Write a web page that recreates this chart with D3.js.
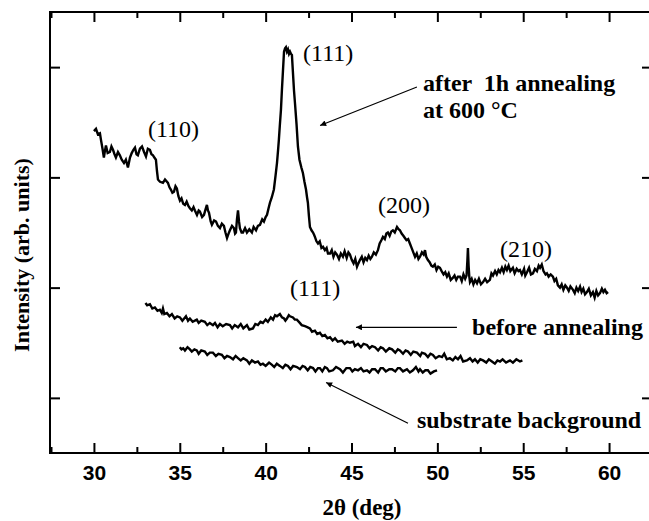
<!DOCTYPE html>
<html>
<head>
<meta charset="utf-8">
<script src="https://cdn.jsdelivr.net/npm/d3@7"></script>
<style>
  html, body { margin: 0; padding: 0; background: #fff; }
  svg { display: block; }
  .serif { font-family: "Liberation Serif", "Times New Roman", serif; }
</style>
</head>
<body>
<svg id="chart" width="649" height="521"></svg>
<script>
// ---- data (2θ in degrees, intensity in arbitrary units) ----
const xTicks = [30, 35, 40, 45, 50, 55, 60];
const xMinorTicks = [27.5, 32.5, 37.5, 42.5, 47.5, 52.5, 57.5, 62.5];
const yTicks = [50, 150, 250, 350];

const afterAnnealing = [
[30.00,292],[30.12,294],[30.23,289],[30.35,290],[30.41,284],[30.50,276],[30.58,268],[30.64,274],[30.70,279],[30.80,272],
[30.93,273],[31.02,278],[31.11,275],[31.20,271],[31.28,268],[31.40,273],[31.51,270],[31.62,266],[31.75,263],[31.86,266],
[31.98,259],[32.10,268],[32.20,272],[32.30,275],[32.39,277],[32.48,271],[32.56,270],[32.68,276],[32.80,278],[32.92,273],
[33.03,269],[33.14,276],[33.26,275],[33.35,271],[33.44,270],[33.52,268],[33.61,266],[33.67,256],[33.73,248],[33.85,246],
[34.02,245],[34.14,248],[34.31,245],[34.40,241],[34.48,239],[34.57,236],[34.66,237],[34.75,242],[34.83,240],[34.92,233],
[35.01,229],[35.10,231],[35.20,226],[35.30,225],[35.40,228],[35.50,224],[35.59,222],[35.70,220],[35.80,223],[35.88,220],
[36.00,216],[36.10,220],[36.17,219],[36.30,214],[36.41,216],[36.50,221],[36.58,225],[36.64,220],[36.70,218],[36.80,210],
[36.87,207],[37.00,211],[37.11,210],[37.22,206],[37.34,204],[37.45,208],[37.57,206],[37.66,200],[37.75,195],[37.84,199],
[37.92,202],[38.04,206],[38.15,204],[38.22,199],[38.27,200],[38.33,212],[38.39,220],[38.45,210],[38.50,204],[38.60,200],
[38.68,200],[38.80,204],[38.91,200],[39.05,203],[39.20,200],[39.30,205],[39.44,202],[39.55,206],[39.67,207],[39.80,212],
[39.90,210],[40.00,214],[40.08,216],[40.17,222],[40.25,227],[40.36,232],[40.48,239],[40.58,252],[40.66,263],[40.72,274],
[40.77,284],[40.83,298],[40.89,311],[40.95,330],[41.01,347],[41.07,364],[41.13,367],[41.18,368],[41.24,364],[41.30,366],
[41.36,362],[41.42,364],[41.48,362],[41.53,361],[41.59,345],[41.65,329],[41.71,317],[41.80,298],[41.88,278],[41.97,266],
[42.08,259],[42.17,254],[42.26,246],[42.35,239],[42.41,232],[42.46,227],[42.52,215],[42.58,205],[42.67,202],[42.76,200],
[42.82,198],[42.87,196],[42.96,192],[43.05,190],[43.15,192],[43.25,186],[43.34,187],[43.45,184],[43.55,186],[43.63,181],
[43.75,181],[43.85,184],[43.95,178],[44.05,182],[44.15,180],[44.27,176],[44.38,181],[44.50,178],[44.60,183],[44.72,177],
[44.82,182],[44.91,180],[45.02,175],[45.12,172],[45.22,176],[45.32,169],[45.40,172],[45.49,175],[45.60,178],[45.70,173],
[45.80,177],[45.90,175],[46.00,179],[46.10,176],[46.19,178],[46.30,182],[46.42,180],[46.54,184],[46.64,190],[46.74,193],
[46.83,196],[46.94,194],[47.03,199],[47.12,200],[47.22,197],[47.32,201],[47.41,202],[47.52,200],[47.65,205],[47.74,203],
[47.82,202],[47.92,199],[48.02,197],[48.11,195],[48.20,193],[48.30,194],[48.40,190],[48.50,186],[48.60,182],[48.70,178],
[48.80,181],[48.90,176],[48.99,178],[49.10,182],[49.20,180],[49.28,184],[49.35,178],[49.45,175],[49.55,173],[49.65,170],
[49.74,169],[49.85,171],[49.95,166],[50.05,169],[50.15,168],[50.25,165],[50.36,162],[50.46,164],[50.56,160],[50.66,163],
[50.78,157],[50.91,159],[51.00,161],[51.10,157],[51.20,160],[51.32,160],[51.42,156],[51.52,162],[51.62,158],[51.70,161],
[51.75,175],[51.78,186],[51.82,170],[51.86,160],[51.90,155],[52.00,158],[52.10,153],[52.20,157],[52.31,154],[52.42,158],
[52.54,153],[52.66,155],[52.78,158],[52.90,155],[53.06,157],[53.15,163],[53.24,161],[53.36,165],[53.46,162],[53.56,166],
[53.65,164],[53.76,168],[53.86,164],[53.96,169],[54.05,166],[54.15,170],[54.25,165],[54.40,168],[54.50,163],[54.62,167],
[54.72,165],[54.81,166],[54.92,162],[55.05,167],[55.12,161],[55.22,164],[55.34,168],[55.45,162],[55.57,163],[55.68,167],
[55.80,165],[55.90,170],[55.98,168],[56.08,171],[56.18,165],[56.30,162],[56.38,163],[56.48,160],[56.60,162],[56.73,160],
[56.82,156],[56.92,158],[57.02,152],[57.14,150],[57.24,153],[57.34,148],[57.45,152],[57.55,150],[57.65,147],[57.75,151],
[57.90,148],[58.00,145],[58.10,150],[58.20,147],[58.31,151],[58.40,146],[58.50,149],[58.60,144],[58.71,146],[58.82,149],
[58.94,143],[59.06,146],[59.16,141],[59.26,147],[59.36,143],[59.47,145],[59.58,149],[59.67,146],[59.76,148],[59.86,145],
[59.94,146]
];

const beforeAnnealing = [
[33.00,136],[33.10,134],[33.26,135],[33.40,131],[33.55,132],[33.70,129],[33.84,130],[33.95,127],[34.02,131],[34.10,126],
[34.25,127],[34.40,124],[34.54,126],[34.70,122],[34.85,124],[35.01,123],[35.15,120],[35.36,124],[35.48,120],[35.59,122],
[35.75,119],[35.99,121],[36.10,118],[36.25,120],[36.46,119],[36.60,116],[36.75,118],[36.93,116],[37.05,118],[37.20,114],
[37.34,117],[37.50,115],[37.70,117],[37.92,116],[38.05,113],[38.20,116],[38.39,114],[38.55,117],[38.70,113],[38.91,116],
[39.05,112],[39.26,113],[39.40,117],[39.55,116],[39.70,119],[39.84,118],[40.00,121],[40.13,119],[40.30,123],[40.43,121],
[40.55,125],[40.66,124],[40.83,126],[40.95,123],[41.07,122],[41.15,120],[41.24,122],[41.35,125],[41.42,124],[41.59,123],
[41.70,121],[41.82,121],[41.99,118],[42.10,116],[42.29,115],[42.45,114],[42.58,113],[42.70,110],[42.87,111],[43.00,108],
[43.16,109],[43.30,106],[43.45,107],[43.60,104],[43.75,105],[43.90,102],[44.04,104],[44.20,101],[44.44,102],[44.60,99],
[44.75,101],[44.91,100],[45.10,101],[45.20,97],[45.38,99],[45.55,96],[45.70,99],[45.90,98],[46.05,95],[46.20,97],
[46.37,96],[46.55,93],[46.70,96],[46.83,95],[47.00,92],[47.20,95],[47.36,94],[47.55,91],[47.70,94],[47.82,93],
[48.00,90],[48.15,93],[48.29,92],[48.45,89],[48.60,92],[48.81,91],[49.00,88],[49.10,91],[49.28,90],[49.45,87],
[49.60,90],[49.74,89],[49.90,86],[50.10,88],[50.27,87],[50.40,90],[50.55,85],[50.73,86],[50.90,84],[51.05,87],
[51.20,85],[51.35,88],[51.50,83],[51.72,84],[51.90,86],[52.05,83],[52.19,85],[52.35,82],[52.50,85],[52.66,84],
[52.85,82],[53.00,85],[53.18,83],[53.35,81],[53.50,84],[53.65,83],[53.80,85],[54.00,82],[54.23,84],[54.40,82],
[54.60,85],[54.81,83],[54.95,84]
];

const substrateBackground = [
[35.00,96],[35.10,94],[35.20,95],[35.30,93],[35.45,96],[35.59,94],[35.70,92],[35.85,94],[35.99,93],[36.10,90],
[36.25,93],[36.46,92],[36.60,89],[36.75,91],[36.93,91],[37.10,88],[37.25,90],[37.45,89],[37.60,86],[37.75,88],
[37.92,87],[38.10,85],[38.25,88],[38.39,86],[38.55,84],[38.70,86],[38.91,84],[39.05,81],[39.20,84],[39.38,82],
[39.55,83],[39.70,80],[39.84,81],[40.00,79],[40.20,82],[40.37,80],[40.50,78],[40.65,81],[40.83,79],[41.00,77],
[41.15,80],[41.30,79],[41.45,76],[41.60,79],[41.82,78],[42.00,76],[42.15,79],[42.29,78],[42.45,75],[42.60,78],
[42.76,77],[42.90,74],[43.05,77],[43.16,77],[43.30,74],[43.45,78],[43.57,77],[43.70,74],[43.92,75],[44.10,78],
[44.33,76],[44.50,73],[44.70,77],[44.91,77],[45.05,74],[45.20,76],[45.38,75],[45.55,77],[45.70,74],[45.90,75],
[46.05,73],[46.20,76],[46.37,76],[46.55,73],[46.70,77],[46.83,77],[47.00,74],[47.20,76],[47.36,76],[47.55,74],
[47.70,77],[47.82,77],[48.00,74],[48.23,76],[48.40,73],[48.58,75],[48.75,78],[48.90,74],[48.99,76],[49.15,73],
[49.30,75],[49.45,75],[49.60,72],[49.80,74],[49.98,75]
];

// peak labels: [angle, intensity, text]
const peakLabels = [
  [42.18, 356, "(111)"],
  [33.15, 287, "(110)"],
  [46.54, 218, "(200)"],
  [53.65, 178, "(210)"],
  [41.42, 142, "(111)"]
];

// annotation arrows: [fromAngle, fromIntensity, toAngle, toIntensity]
const arrows = [
  [48.81, 332, 43.17, 297],
  [51.14, 114, 45.26, 114],
  [48.29, 27, 43.52, 64]
];

// annotation texts: [angle, intensity, text]
const notes = [
  [49.16, 328, "after  1h annealing"],
  [49.16, 304, "at 600 °C"],
  [52.02, 107, "before annealing"],
  [48.81, 23, "substrate background"]
];

// ---- layout ----
const svg = d3.select("#chart");
const x = d3.scaleLinear().domain([27.5, 62.5]).range([51, 652]);
const y = d3.scaleLinear().domain([0, 400]).range([453, 12]);
const plotLeft = 50, plotRight = 652, plotTop = 12, plotBottom = 453;

const g = svg.append("g");

// frame
g.append("rect").attr("x", plotLeft).attr("y", plotTop)
  .attr("width", plotRight - plotLeft).attr("height", plotBottom - plotTop)
  .attr("fill", "none").attr("stroke", "#000").attr("stroke-width", 2);

function styleAxis(sel) {
  sel.select(".domain").remove();
  sel.selectAll(".tick line").attr("stroke", "#000").attr("stroke-width", 2);
}

// bottom axis with labels
const xAxis = d3.axisBottom(x).tickValues(xTicks).tickSize(-10).tickPadding(12)
  .tickFormat(d3.format("d"));
const gx = g.append("g").attr("transform", `translate(0,${plotBottom})`).call(xAxis);
styleAxis(gx);
gx.selectAll("text").attr("fill", "#000")
  .style("font-family", "'Liberation Sans', Arial, sans-serif")
  .style("font-weight", "bold").style("font-size", "21px");
g.append("g").attr("transform", `translate(0,${plotBottom})`)
  .call(d3.axisBottom(x).tickValues(xMinorTicks).tickSize(-6).tickFormat(""))
  .call(styleAxis);
// top axis
g.append("g").attr("transform", `translate(0,${plotTop})`)
  .call(d3.axisTop(x).tickValues(xTicks).tickSize(-10).tickFormat(""))
  .call(styleAxis);
g.append("g").attr("transform", `translate(0,${plotTop})`)
  .call(d3.axisTop(x).tickValues(xMinorTicks).tickSize(-6).tickFormat(""))
  .call(styleAxis);
// left / right axes
g.append("g").attr("transform", `translate(${plotLeft},0)`)
  .call(d3.axisLeft(y).tickValues(yTicks).tickSize(-10).tickFormat(""))
  .call(styleAxis);
g.append("g").attr("transform", `translate(${plotRight},0)`)
  .call(d3.axisRight(y).tickValues(yTicks).tickSize(-10).tickFormat(""))
  .call(styleAxis);

// curves
const line = d3.line().x(d => x(d[0])).y(d => y(d[1]));
[afterAnnealing, beforeAnnealing, substrateBackground].forEach(data => {
  g.append("path").datum(data).attr("d", line)
    .attr("fill", "none").attr("stroke", "#000")
    .attr("stroke-width", 2.4).attr("stroke-linejoin", "miter");
});

// peak labels
g.selectAll(".peak").data(peakLabels).enter().append("text")
  .attr("class", "serif")
  .attr("x", d => x(d[0])).attr("y", d => y(d[1]))
  .style("font-size", "24px").attr("fill", "#000")
  .text(d => d[2]);

// arrows
const defs = svg.append("defs");
defs.append("marker").attr("id", "ah").attr("viewBox", "0 0 10 10")
  .attr("refX", 10).attr("refY", 5).attr("markerWidth", 9).attr("markerHeight", 6)
  .attr("markerUnits", "userSpaceOnUse").attr("orient", "auto")
  .append("path").attr("d", "M0,0 L10,5 L0,10 Z").attr("fill", "#000");

g.selectAll(".arrow").data(arrows).enter().append("line")
  .attr("x1", d => x(d[0])).attr("y1", d => y(d[1]))
  .attr("x2", d => x(d[2])).attr("y2", d => y(d[3]))
  .attr("stroke", "#000").attr("stroke-width", 1.2)
  .attr("marker-end", "url(#ah)");

g.selectAll(".note").data(notes).enter().append("text")
  .attr("class", "serif")
  .attr("x", d => x(d[0])).attr("y", d => y(d[1]))
  .style("font-size", "24px").style("font-weight", "bold")
  .style("white-space", "pre")
  .attr("fill", "#000").text(d => d[2]);

// axis titles
svg.append("text").attr("class", "serif")
  .attr("transform", `translate(29,255) rotate(-90)`)
  .attr("text-anchor", "middle")
  .style("font-size", "22px").style("font-weight", "bold")
  .text("Intensity (arb. units)");
svg.append("text").attr("class", "serif")
  .attr("x", 362).attr("y", 515).attr("text-anchor", "middle")
  .style("font-size", "23px").style("font-weight", "bold")
  .text("2θ (deg)");
</script>
</body>
</html>
